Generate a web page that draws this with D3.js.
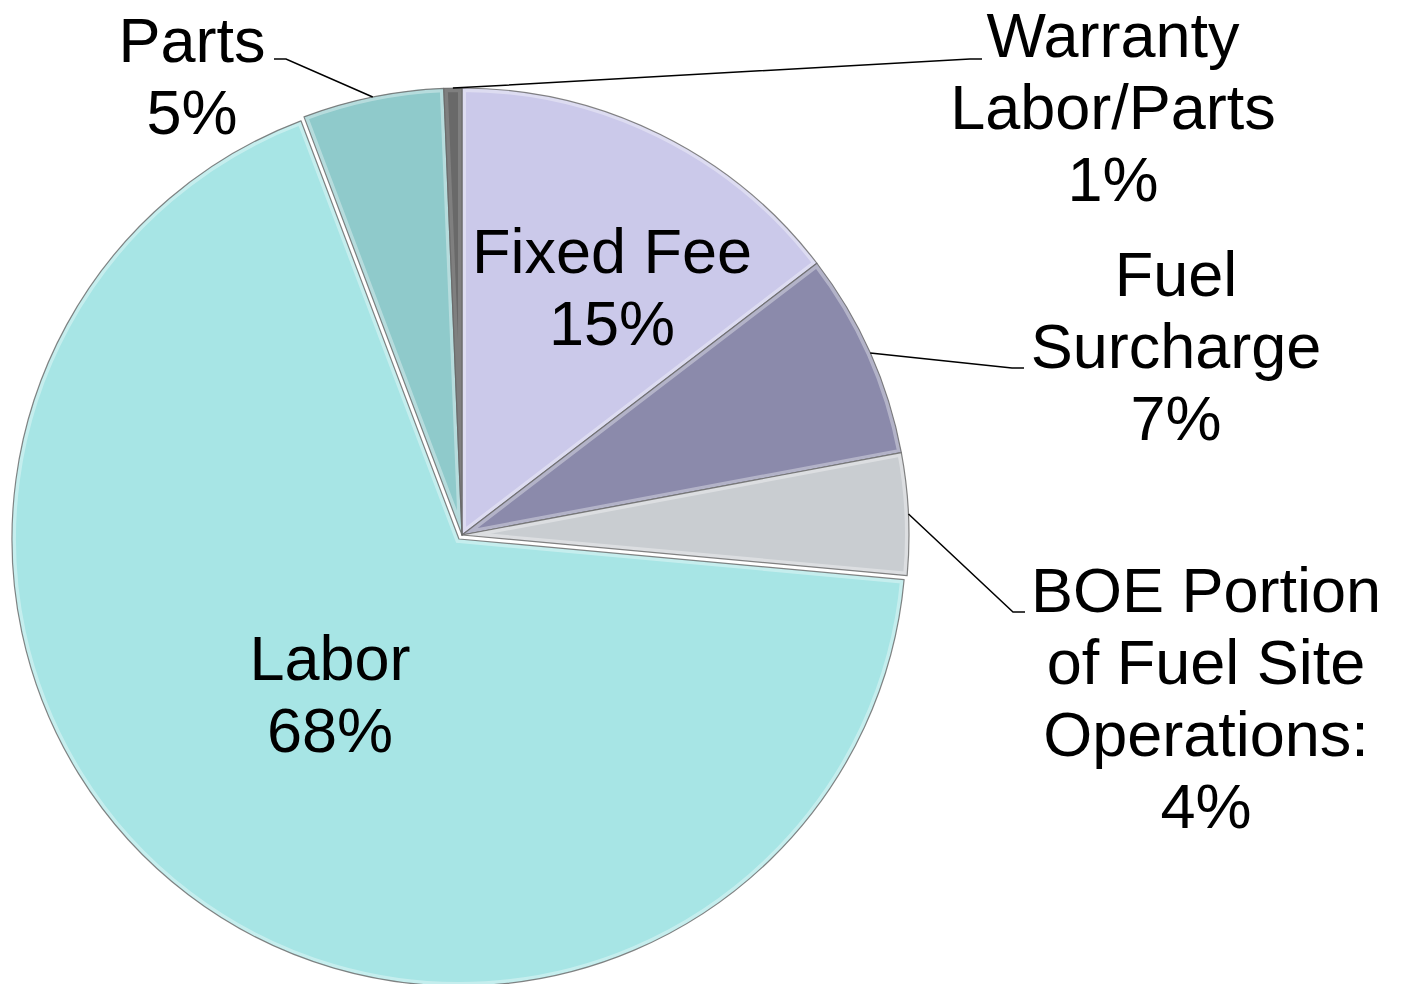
<!DOCTYPE html>
<html lang="en">
<head>
<meta charset="utf-8">
<title>cost breakdown pie</title>
<script src="https://cdn.jsdelivr.net/npm/d3@7"></script>
<style>
    body { margin: 0; background: #fff; }
    .lbl { font-family: "Liberation Sans", Arial, sans-serif; font-size: 63px; fill: #000; }
</style>
</head>
<body>
<script>
    // slices clockwise from 12 o'clock
    var categories = ['Fixed Fee', 'Fuel Surcharge', 'BOE Portion of Fuel Site Operations', 'Labor', 'Parts', 'Warranty Labor/Parts'];
    var values = [14.6, 7.45, 4.4, 67.8, 5.1, 0.65];
    var labelLines = [['Fixed Fee', '15%'], ['Fuel', 'Surcharge', '7%'], ['BOE Portion', 'of Fuel Site', 'Operations:', '4%'], ['Labor', '68%'], ['Parts', '5%'], ['Warranty', 'Labor/Parts', '1%']];
    var colors = ['#cbc9ea', '#8b8aab', '#c9cdd1', '#a7e5e5', '#8fcacb', '#696969'];

    var width = 1402, height = 984;
    var cx = 462, cy = 535, radius = 447;

    // label layout: centre x, first baseline, leader elbow + end (null = inside label)
    var labelPos = [
        { x: 612, y: 273, leader: null },
        { x: 1176, y: 296, leader: [[1012, 368], [1024, 368]] },
        { x: 1206, y: 612, leader: [[1013, 612], [1025, 612]] },
        { x: 330, y: 680, leader: null },
        { x: 192, y: 62, leader: [[286, 59], [274, 59]] },
        { x: 1113, y: 57, leader: [[970, 59], [982, 59]] }
    ];
    var lineGap = 72;
    var explode = { 3: 5 };

    var svg = d3.select('body').append('svg')
        .attr('width', width)
        .attr('height', height);

    var arcs = d3.pie().sort(null)(values);
    var arc = d3.arc().innerRadius(0).outerRadius(radius);

    var defs = svg.append('defs');
    arcs.forEach(function (d, i) {
        defs.append('clipPath').attr('id', 'clip' + i)
            .append('path').attr('d', arc(d));
    });

    var g = svg.append('g').attr('transform', `translate(${cx}, ${cy})`);

    var slices = g.selectAll('g.slice')
        .data(arcs)
        .enter().append('g')
        .attr('class', 'slice')
        .attr('transform', function (d, i) {
            var off = explode[i] || 0;
            var a = (d.startAngle + d.endAngle) / 2;
            return `translate(${off * Math.sin(a)}, ${-off * Math.cos(a)})`;
        });

    slices.append('path')
        .attr('d', arc)
        .style('fill', (d, i) => colors[i]);

    // soft bevel: light inner edge, thin dark outline
    slices.append('path')
        .attr('d', arc)
        .attr('clip-path', (d, i) => `url(#clip${i})`)
        .style('fill', 'none')
        .style('stroke', '#fff')
        .style('stroke-opacity', (d, i) => i == 5 ? 0.15 : 0.35)
        .style('stroke-width', 8);

    slices.append('path')
        .attr('d', arc)
        .style('fill', 'none')
        .style('stroke', '#666')
        .style('stroke-opacity', 0.8)
        .style('stroke-width', 1.2)
        .style('stroke-linejoin', 'round');

    // leader lines from the slice edge to the outside labels
    arcs.forEach(function (d, i) {
        var lp = labelPos[i];
        if (!lp.leader) return;
        var a = (d.startAngle + d.endAngle) / 2;
        var start = [cx + radius * Math.sin(a), cy - radius * Math.cos(a)];
        svg.append('polyline')
            .attr('points', [start].concat(lp.leader).map(p => p.join(',')).join(' '))
            .style('fill', 'none')
            .style('stroke', '#000')
            .style('stroke-width', 1.5);
    });

    // labels
    labelLines.forEach(function (lines, i) {
        var lp = labelPos[i];
        var t = svg.append('text')
            .attr('class', 'lbl')
            .attr('text-anchor', 'middle');
        lines.forEach(function (s, k) {
            t.append('tspan')
                .attr('x', lp.x)
                .attr('y', lp.y + k * lineGap)
                .text(s);
        });
    });
</script>
</body>
</html>
